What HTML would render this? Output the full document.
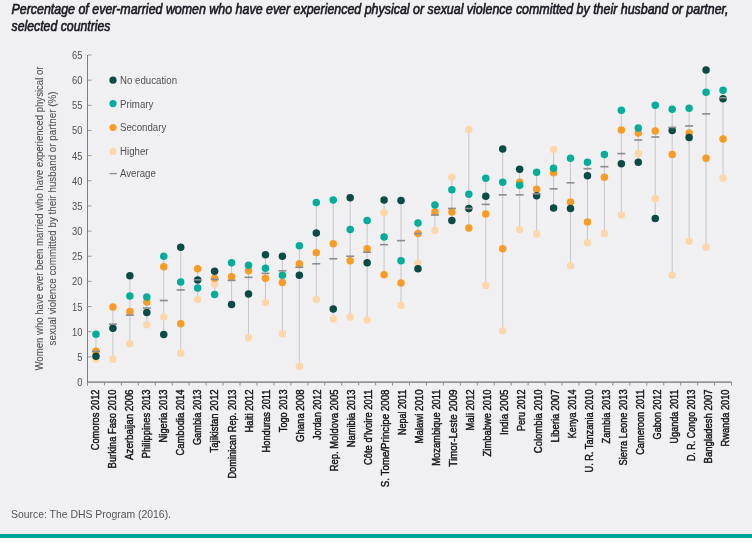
<!DOCTYPE html>
<html><head><meta charset="utf-8"><style>
html,body{margin:0;padding:0;background:#f0f0f2;width:752px;height:553px;overflow:hidden}
svg{display:block;will-change:transform}
</style></head><body>
<svg width="752" height="553" viewBox="0 0 752 553"><rect x="0" y="0" width="752" height="553" fill="#f0f0f2"/>
<rect x="0" y="534" width="752" height="4" fill="#00a494"/>
<rect x="0" y="538" width="752" height="15" fill="#ffffff"/>
<g transform="translate(0 13.8) scale(1 1.07)"><text font-family="Liberation Sans, sans-serif" font-style="italic" font-size="13" fill="#1c1c24" stroke="#1c1c24" stroke-width="0.6"><tspan x="11.5" y="0" textLength="717" lengthAdjust="spacingAndGlyphs">Percentage of ever-married women who have ever experienced physical or sexual violence committed by their husband or partner,</tspan><tspan x="11.5" y="16.54" textLength="99" lengthAdjust="spacingAndGlyphs">selected countries</tspan></text></g>
<line x1="87.5" y1="55" x2="87.5" y2="385.5" stroke="#7d7d80" stroke-width="1"/>
<line x1="87" y1="382" x2="731.5" y2="382" stroke="#737376" stroke-width="1.25"/>
<text x="82.5" y="386.00" font-family="Liberation Sans, sans-serif" font-size="11" fill="#505055" text-anchor="end" transform="translate(82.5 0) scale(0.85 1) translate(-82.5 0)">0</text>
<line x1="88" y1="356.85" x2="91.5" y2="356.85" stroke="#98989b" stroke-width="1"/>
<text x="82.5" y="360.85" font-family="Liberation Sans, sans-serif" font-size="11" fill="#505055" text-anchor="end" transform="translate(82.5 0) scale(0.85 1) translate(-82.5 0)">5</text>
<line x1="88" y1="331.69" x2="91.5" y2="331.69" stroke="#98989b" stroke-width="1"/>
<text x="82.5" y="335.69" font-family="Liberation Sans, sans-serif" font-size="11" fill="#505055" text-anchor="end" transform="translate(82.5 0) scale(0.85 1) translate(-82.5 0)">10</text>
<line x1="88" y1="306.54" x2="91.5" y2="306.54" stroke="#98989b" stroke-width="1"/>
<text x="82.5" y="310.54" font-family="Liberation Sans, sans-serif" font-size="11" fill="#505055" text-anchor="end" transform="translate(82.5 0) scale(0.85 1) translate(-82.5 0)">15</text>
<line x1="88" y1="281.38" x2="91.5" y2="281.38" stroke="#98989b" stroke-width="1"/>
<text x="82.5" y="285.38" font-family="Liberation Sans, sans-serif" font-size="11" fill="#505055" text-anchor="end" transform="translate(82.5 0) scale(0.85 1) translate(-82.5 0)">20</text>
<line x1="88" y1="256.23" x2="91.5" y2="256.23" stroke="#98989b" stroke-width="1"/>
<text x="82.5" y="260.23" font-family="Liberation Sans, sans-serif" font-size="11" fill="#505055" text-anchor="end" transform="translate(82.5 0) scale(0.85 1) translate(-82.5 0)">25</text>
<line x1="88" y1="231.08" x2="91.5" y2="231.08" stroke="#98989b" stroke-width="1"/>
<text x="82.5" y="235.08" font-family="Liberation Sans, sans-serif" font-size="11" fill="#505055" text-anchor="end" transform="translate(82.5 0) scale(0.85 1) translate(-82.5 0)">30</text>
<line x1="88" y1="205.92" x2="91.5" y2="205.92" stroke="#98989b" stroke-width="1"/>
<text x="82.5" y="209.92" font-family="Liberation Sans, sans-serif" font-size="11" fill="#505055" text-anchor="end" transform="translate(82.5 0) scale(0.85 1) translate(-82.5 0)">35</text>
<line x1="88" y1="180.77" x2="91.5" y2="180.77" stroke="#98989b" stroke-width="1"/>
<text x="82.5" y="184.77" font-family="Liberation Sans, sans-serif" font-size="11" fill="#505055" text-anchor="end" transform="translate(82.5 0) scale(0.85 1) translate(-82.5 0)">40</text>
<line x1="88" y1="155.62" x2="91.5" y2="155.62" stroke="#98989b" stroke-width="1"/>
<text x="82.5" y="159.62" font-family="Liberation Sans, sans-serif" font-size="11" fill="#505055" text-anchor="end" transform="translate(82.5 0) scale(0.85 1) translate(-82.5 0)">45</text>
<line x1="88" y1="130.46" x2="91.5" y2="130.46" stroke="#98989b" stroke-width="1"/>
<text x="82.5" y="134.46" font-family="Liberation Sans, sans-serif" font-size="11" fill="#505055" text-anchor="end" transform="translate(82.5 0) scale(0.85 1) translate(-82.5 0)">50</text>
<line x1="88" y1="105.31" x2="91.5" y2="105.31" stroke="#98989b" stroke-width="1"/>
<text x="82.5" y="109.31" font-family="Liberation Sans, sans-serif" font-size="11" fill="#505055" text-anchor="end" transform="translate(82.5 0) scale(0.85 1) translate(-82.5 0)">55</text>
<line x1="88" y1="80.15" x2="91.5" y2="80.15" stroke="#98989b" stroke-width="1"/>
<text x="82.5" y="84.15" font-family="Liberation Sans, sans-serif" font-size="11" fill="#505055" text-anchor="end" transform="translate(82.5 0) scale(0.85 1) translate(-82.5 0)">60</text>
<line x1="88" y1="55.00" x2="91.5" y2="55.00" stroke="#98989b" stroke-width="1"/>
<text x="82.5" y="59.00" font-family="Liberation Sans, sans-serif" font-size="11" fill="#505055" text-anchor="end" transform="translate(82.5 0) scale(0.85 1) translate(-82.5 0)">65</text>
<line x1="87.50" y1="382" x2="87.50" y2="385.5" stroke="#8c8c8f" stroke-width="1"/>
<line x1="104.45" y1="382" x2="104.45" y2="385.5" stroke="#8c8c8f" stroke-width="1"/>
<line x1="121.39" y1="382" x2="121.39" y2="385.5" stroke="#8c8c8f" stroke-width="1"/>
<line x1="138.34" y1="382" x2="138.34" y2="385.5" stroke="#8c8c8f" stroke-width="1"/>
<line x1="155.29" y1="382" x2="155.29" y2="385.5" stroke="#8c8c8f" stroke-width="1"/>
<line x1="172.24" y1="382" x2="172.24" y2="385.5" stroke="#8c8c8f" stroke-width="1"/>
<line x1="189.18" y1="382" x2="189.18" y2="385.5" stroke="#8c8c8f" stroke-width="1"/>
<line x1="206.13" y1="382" x2="206.13" y2="385.5" stroke="#8c8c8f" stroke-width="1"/>
<line x1="223.08" y1="382" x2="223.08" y2="385.5" stroke="#8c8c8f" stroke-width="1"/>
<line x1="240.03" y1="382" x2="240.03" y2="385.5" stroke="#8c8c8f" stroke-width="1"/>
<line x1="256.97" y1="382" x2="256.97" y2="385.5" stroke="#8c8c8f" stroke-width="1"/>
<line x1="273.92" y1="382" x2="273.92" y2="385.5" stroke="#8c8c8f" stroke-width="1"/>
<line x1="290.87" y1="382" x2="290.87" y2="385.5" stroke="#8c8c8f" stroke-width="1"/>
<line x1="307.82" y1="382" x2="307.82" y2="385.5" stroke="#8c8c8f" stroke-width="1"/>
<line x1="324.76" y1="382" x2="324.76" y2="385.5" stroke="#8c8c8f" stroke-width="1"/>
<line x1="341.71" y1="382" x2="341.71" y2="385.5" stroke="#8c8c8f" stroke-width="1"/>
<line x1="358.66" y1="382" x2="358.66" y2="385.5" stroke="#8c8c8f" stroke-width="1"/>
<line x1="375.61" y1="382" x2="375.61" y2="385.5" stroke="#8c8c8f" stroke-width="1"/>
<line x1="392.55" y1="382" x2="392.55" y2="385.5" stroke="#8c8c8f" stroke-width="1"/>
<line x1="409.50" y1="382" x2="409.50" y2="385.5" stroke="#8c8c8f" stroke-width="1"/>
<line x1="426.45" y1="382" x2="426.45" y2="385.5" stroke="#8c8c8f" stroke-width="1"/>
<line x1="443.39" y1="382" x2="443.39" y2="385.5" stroke="#8c8c8f" stroke-width="1"/>
<line x1="460.34" y1="382" x2="460.34" y2="385.5" stroke="#8c8c8f" stroke-width="1"/>
<line x1="477.29" y1="382" x2="477.29" y2="385.5" stroke="#8c8c8f" stroke-width="1"/>
<line x1="494.24" y1="382" x2="494.24" y2="385.5" stroke="#8c8c8f" stroke-width="1"/>
<line x1="511.18" y1="382" x2="511.18" y2="385.5" stroke="#8c8c8f" stroke-width="1"/>
<line x1="528.13" y1="382" x2="528.13" y2="385.5" stroke="#8c8c8f" stroke-width="1"/>
<line x1="545.08" y1="382" x2="545.08" y2="385.5" stroke="#8c8c8f" stroke-width="1"/>
<line x1="562.03" y1="382" x2="562.03" y2="385.5" stroke="#8c8c8f" stroke-width="1"/>
<line x1="578.97" y1="382" x2="578.97" y2="385.5" stroke="#8c8c8f" stroke-width="1"/>
<line x1="595.92" y1="382" x2="595.92" y2="385.5" stroke="#8c8c8f" stroke-width="1"/>
<line x1="612.87" y1="382" x2="612.87" y2="385.5" stroke="#8c8c8f" stroke-width="1"/>
<line x1="629.82" y1="382" x2="629.82" y2="385.5" stroke="#8c8c8f" stroke-width="1"/>
<line x1="646.76" y1="382" x2="646.76" y2="385.5" stroke="#8c8c8f" stroke-width="1"/>
<line x1="663.71" y1="382" x2="663.71" y2="385.5" stroke="#8c8c8f" stroke-width="1"/>
<line x1="680.66" y1="382" x2="680.66" y2="385.5" stroke="#8c8c8f" stroke-width="1"/>
<line x1="697.61" y1="382" x2="697.61" y2="385.5" stroke="#8c8c8f" stroke-width="1"/>
<line x1="714.55" y1="382" x2="714.55" y2="385.5" stroke="#8c8c8f" stroke-width="1"/>
<line x1="731.50" y1="382" x2="731.50" y2="385.5" stroke="#8c8c8f" stroke-width="1"/>
<g transform="translate(43.4 218.5) rotate(-90)"><text x="0" y="0" font-family="Liberation Sans, sans-serif" font-size="11" fill="#505055" stroke="#505055" stroke-width="0.08" text-anchor="middle" textLength="304" lengthAdjust="spacingAndGlyphs">Women who have ever been married who have experienced physical or</text></g>
<g transform="translate(56.0 218.5) rotate(-90)"><text x="0" y="0" font-family="Liberation Sans, sans-serif" font-size="11" fill="#505055" stroke="#505055" stroke-width="0.08" text-anchor="middle" textLength="254" lengthAdjust="spacingAndGlyphs">sexual violence committed by their husband or partner (%)</text></g>
<circle cx="113" cy="80.2" r="3.6" fill="#0a4b44"/>
<text x="120" y="84.2" font-family="Liberation Sans, sans-serif" font-size="11" fill="#505055" transform="translate(120 0) scale(0.88 1) translate(-120 0)">No education</text>
<circle cx="113" cy="103.6" r="3.6" fill="#04ad98"/>
<text x="120" y="107.6" font-family="Liberation Sans, sans-serif" font-size="11" fill="#505055" transform="translate(120 0) scale(0.88 1) translate(-120 0)">Primary</text>
<circle cx="113" cy="127.5" r="3.6" fill="#f69d28"/>
<text x="120" y="131.5" font-family="Liberation Sans, sans-serif" font-size="11" fill="#505055" transform="translate(120 0) scale(0.88 1) translate(-120 0)">Secondary</text>
<circle cx="113" cy="151.3" r="3.6" fill="#fbd8ac"/>
<text x="120" y="155.3" font-family="Liberation Sans, sans-serif" font-size="11" fill="#505055" transform="translate(120 0) scale(0.88 1) translate(-120 0)">Higher</text>
<rect x="109.6" y="172.95" width="7.2" height="1.3" fill="#8c8c8e"/>
<text x="120" y="177" font-family="Liberation Sans, sans-serif" font-size="11" fill="#505055" transform="translate(120 0) scale(0.88 1) translate(-120 0)">Average</text>
<line x1="95.97" y1="334.21" x2="95.97" y2="359.36" stroke="#c8c8cc" stroke-width="1.05"/>
<circle cx="95.97" cy="359.36" r="3.75" fill="#fbd8ac"/>
<circle cx="95.97" cy="351.31" r="3.75" fill="#f69d28"/>
<circle cx="95.97" cy="334.21" r="3.75" fill="#04ad98"/>
<circle cx="95.97" cy="356.34" r="3.75" fill="#0a4b44"/>
<rect x="91.97" y="350.51" width="8" height="1.6" fill="#8c8c8e"/>
<g transform="translate(99.27 389.5) rotate(-90)"><text x="0" y="0" font-family="Liberation Sans, sans-serif" font-size="10.6" fill="#141418" stroke="#141418" stroke-width="0.42" text-anchor="end" textLength="60.8" lengthAdjust="spacingAndGlyphs">Comoros 2012</text></g>
<line x1="112.92" y1="307.04" x2="112.92" y2="359.36" stroke="#c8c8cc" stroke-width="1.05"/>
<circle cx="112.92" cy="359.36" r="3.75" fill="#fbd8ac"/>
<circle cx="112.92" cy="307.04" r="3.75" fill="#f69d28"/>
<circle cx="112.92" cy="328.17" r="3.75" fill="#0a4b44"/>
<rect x="108.92" y="323.35" width="8" height="1.6" fill="#8c8c8e"/>
<g transform="translate(116.30 389.5) rotate(-90)"><text x="0" y="0" font-family="Liberation Sans, sans-serif" font-size="10.6" fill="#141418" stroke="#141418" stroke-width="0.42" text-anchor="end" textLength="78.9" lengthAdjust="spacingAndGlyphs">Burkina Faso 2010</text></g>
<line x1="129.87" y1="275.85" x2="129.87" y2="343.77" stroke="#c8c8cc" stroke-width="1.05"/>
<circle cx="129.87" cy="343.77" r="3.75" fill="#fbd8ac"/>
<circle cx="129.87" cy="311.57" r="3.75" fill="#f69d28"/>
<circle cx="129.87" cy="295.97" r="3.75" fill="#04ad98"/>
<circle cx="129.87" cy="275.85" r="3.75" fill="#0a4b44"/>
<rect x="125.87" y="314.29" width="8" height="1.6" fill="#8c8c8e"/>
<g transform="translate(133.33 389.5) rotate(-90)"><text x="0" y="0" font-family="Liberation Sans, sans-serif" font-size="10.6" fill="#141418" stroke="#141418" stroke-width="0.42" text-anchor="end" textLength="70.5" lengthAdjust="spacingAndGlyphs">Azerbaijan 2006</text></g>
<line x1="146.82" y1="296.98" x2="146.82" y2="324.65" stroke="#c8c8cc" stroke-width="1.05"/>
<circle cx="146.82" cy="324.65" r="3.75" fill="#fbd8ac"/>
<circle cx="146.82" cy="302.01" r="3.75" fill="#f69d28"/>
<circle cx="146.82" cy="296.98" r="3.75" fill="#04ad98"/>
<circle cx="146.82" cy="312.58" r="3.75" fill="#0a4b44"/>
<rect x="142.82" y="307.25" width="8" height="1.6" fill="#8c8c8e"/>
<g transform="translate(150.36 389.5) rotate(-90)"><text x="0" y="0" font-family="Liberation Sans, sans-serif" font-size="10.6" fill="#141418" stroke="#141418" stroke-width="0.42" text-anchor="end" textLength="68.7" lengthAdjust="spacingAndGlyphs">Philippines 2013</text></g>
<line x1="163.76" y1="256.23" x2="163.76" y2="334.46" stroke="#c8c8cc" stroke-width="1.05"/>
<circle cx="163.76" cy="317.10" r="3.75" fill="#fbd8ac"/>
<circle cx="163.76" cy="266.80" r="3.75" fill="#f69d28"/>
<circle cx="163.76" cy="256.23" r="3.75" fill="#04ad98"/>
<circle cx="163.76" cy="334.46" r="3.75" fill="#0a4b44"/>
<rect x="159.76" y="299.70" width="8" height="1.6" fill="#8c8c8e"/>
<g transform="translate(167.39 389.5) rotate(-90)"><text x="0" y="0" font-family="Liberation Sans, sans-serif" font-size="10.6" fill="#141418" stroke="#141418" stroke-width="0.42" text-anchor="end" textLength="52.9" lengthAdjust="spacingAndGlyphs">Nigeria 2013</text></g>
<line x1="180.71" y1="247.18" x2="180.71" y2="353.32" stroke="#c8c8cc" stroke-width="1.05"/>
<circle cx="180.71" cy="353.32" r="3.75" fill="#fbd8ac"/>
<circle cx="180.71" cy="323.64" r="3.75" fill="#f69d28"/>
<circle cx="180.71" cy="281.89" r="3.75" fill="#04ad98"/>
<circle cx="180.71" cy="247.18" r="3.75" fill="#0a4b44"/>
<rect x="176.71" y="289.14" width="8" height="1.6" fill="#8c8c8e"/>
<g transform="translate(184.42 389.5) rotate(-90)"><text x="0" y="0" font-family="Liberation Sans, sans-serif" font-size="10.6" fill="#141418" stroke="#141418" stroke-width="0.42" text-anchor="end" textLength="66.0" lengthAdjust="spacingAndGlyphs">Cambodia 2014</text></g>
<line x1="197.66" y1="268.81" x2="197.66" y2="299.50" stroke="#c8c8cc" stroke-width="1.05"/>
<circle cx="197.66" cy="299.50" r="3.75" fill="#fbd8ac"/>
<circle cx="197.66" cy="268.81" r="3.75" fill="#f69d28"/>
<circle cx="197.66" cy="287.92" r="3.75" fill="#04ad98"/>
<circle cx="197.66" cy="279.88" r="3.75" fill="#0a4b44"/>
<rect x="193.66" y="279.08" width="8" height="1.6" fill="#8c8c8e"/>
<g transform="translate(201.44 389.5) rotate(-90)"><text x="0" y="0" font-family="Liberation Sans, sans-serif" font-size="10.6" fill="#141418" stroke="#141418" stroke-width="0.42" text-anchor="end" textLength="55.6" lengthAdjust="spacingAndGlyphs">Gambia 2013</text></g>
<line x1="214.61" y1="271.32" x2="214.61" y2="294.46" stroke="#c8c8cc" stroke-width="1.05"/>
<circle cx="214.61" cy="283.90" r="3.75" fill="#fbd8ac"/>
<circle cx="214.61" cy="278.37" r="3.75" fill="#f69d28"/>
<circle cx="214.61" cy="294.46" r="3.75" fill="#04ad98"/>
<circle cx="214.61" cy="271.32" r="3.75" fill="#0a4b44"/>
<rect x="210.61" y="278.57" width="8" height="1.6" fill="#8c8c8e"/>
<g transform="translate(218.47 389.5) rotate(-90)"><text x="0" y="0" font-family="Liberation Sans, sans-serif" font-size="10.6" fill="#141418" stroke="#141418" stroke-width="0.42" text-anchor="end" textLength="63.0" lengthAdjust="spacingAndGlyphs">Tajikistan 2012</text></g>
<line x1="231.55" y1="262.77" x2="231.55" y2="304.53" stroke="#c8c8cc" stroke-width="1.05"/>
<circle cx="231.55" cy="276.86" r="3.75" fill="#f69d28"/>
<circle cx="231.55" cy="262.77" r="3.75" fill="#04ad98"/>
<circle cx="231.55" cy="304.53" r="3.75" fill="#0a4b44"/>
<rect x="227.55" y="279.58" width="8" height="1.6" fill="#8c8c8e"/>
<g transform="translate(235.50 389.5) rotate(-90)"><text x="0" y="0" font-family="Liberation Sans, sans-serif" font-size="10.6" fill="#141418" stroke="#141418" stroke-width="0.42" text-anchor="end" textLength="89.1" lengthAdjust="spacingAndGlyphs">Dominican Rep. 2013</text></g>
<line x1="248.50" y1="265.29" x2="248.50" y2="337.73" stroke="#c8c8cc" stroke-width="1.05"/>
<circle cx="248.50" cy="337.73" r="3.75" fill="#fbd8ac"/>
<circle cx="248.50" cy="270.82" r="3.75" fill="#f69d28"/>
<circle cx="248.50" cy="265.29" r="3.75" fill="#04ad98"/>
<circle cx="248.50" cy="293.96" r="3.75" fill="#0a4b44"/>
<rect x="244.50" y="276.56" width="8" height="1.6" fill="#8c8c8e"/>
<g transform="translate(252.53 389.5) rotate(-90)"><text x="0" y="0" font-family="Liberation Sans, sans-serif" font-size="10.6" fill="#141418" stroke="#141418" stroke-width="0.42" text-anchor="end" textLength="43.1" lengthAdjust="spacingAndGlyphs">Haiti 2012</text></g>
<line x1="265.45" y1="254.72" x2="265.45" y2="302.51" stroke="#c8c8cc" stroke-width="1.05"/>
<circle cx="265.45" cy="302.51" r="3.75" fill="#fbd8ac"/>
<circle cx="265.45" cy="278.37" r="3.75" fill="#f69d28"/>
<circle cx="265.45" cy="268.30" r="3.75" fill="#04ad98"/>
<circle cx="265.45" cy="254.72" r="3.75" fill="#0a4b44"/>
<rect x="261.45" y="272.54" width="8" height="1.6" fill="#8c8c8e"/>
<g transform="translate(269.56 389.5) rotate(-90)"><text x="0" y="0" font-family="Liberation Sans, sans-serif" font-size="10.6" fill="#141418" stroke="#141418" stroke-width="0.42" text-anchor="end" textLength="63.0" lengthAdjust="spacingAndGlyphs">Honduras 2011</text></g>
<line x1="282.39" y1="256.23" x2="282.39" y2="333.70" stroke="#c8c8cc" stroke-width="1.05"/>
<circle cx="282.39" cy="333.70" r="3.75" fill="#fbd8ac"/>
<circle cx="282.39" cy="282.39" r="3.75" fill="#f69d28"/>
<circle cx="282.39" cy="275.35" r="3.75" fill="#04ad98"/>
<circle cx="282.39" cy="256.23" r="3.75" fill="#0a4b44"/>
<rect x="278.39" y="270.02" width="8" height="1.6" fill="#8c8c8e"/>
<g transform="translate(286.59 389.5) rotate(-90)"><text x="0" y="0" font-family="Liberation Sans, sans-serif" font-size="10.6" fill="#141418" stroke="#141418" stroke-width="0.42" text-anchor="end" textLength="42.7" lengthAdjust="spacingAndGlyphs">Togo 2013</text></g>
<line x1="299.34" y1="245.67" x2="299.34" y2="366.40" stroke="#c8c8cc" stroke-width="1.05"/>
<circle cx="299.34" cy="366.40" r="3.75" fill="#fbd8ac"/>
<circle cx="299.34" cy="263.78" r="3.75" fill="#f69d28"/>
<circle cx="299.34" cy="245.67" r="3.75" fill="#04ad98"/>
<circle cx="299.34" cy="275.35" r="3.75" fill="#0a4b44"/>
<rect x="295.34" y="266.50" width="8" height="1.6" fill="#8c8c8e"/>
<g transform="translate(303.61 389.5) rotate(-90)"><text x="0" y="0" font-family="Liberation Sans, sans-serif" font-size="10.6" fill="#141418" stroke="#141418" stroke-width="0.42" text-anchor="end" textLength="52.4" lengthAdjust="spacingAndGlyphs">Ghana 2008</text></g>
<line x1="316.29" y1="202.40" x2="316.29" y2="299.50" stroke="#c8c8cc" stroke-width="1.05"/>
<circle cx="316.29" cy="299.50" r="3.75" fill="#fbd8ac"/>
<circle cx="316.29" cy="252.71" r="3.75" fill="#f69d28"/>
<circle cx="316.29" cy="202.40" r="3.75" fill="#04ad98"/>
<circle cx="316.29" cy="233.09" r="3.75" fill="#0a4b44"/>
<rect x="312.29" y="262.98" width="8" height="1.6" fill="#8c8c8e"/>
<g transform="translate(320.64 389.5) rotate(-90)"><text x="0" y="0" font-family="Liberation Sans, sans-serif" font-size="10.6" fill="#141418" stroke="#141418" stroke-width="0.42" text-anchor="end" textLength="50.6" lengthAdjust="spacingAndGlyphs">Jordan 2012</text></g>
<line x1="333.24" y1="199.89" x2="333.24" y2="319.12" stroke="#c8c8cc" stroke-width="1.05"/>
<circle cx="333.24" cy="319.12" r="3.75" fill="#fbd8ac"/>
<circle cx="333.24" cy="243.65" r="3.75" fill="#f69d28"/>
<circle cx="333.24" cy="199.89" r="3.75" fill="#04ad98"/>
<circle cx="333.24" cy="309.05" r="3.75" fill="#0a4b44"/>
<rect x="329.24" y="257.95" width="8" height="1.6" fill="#8c8c8e"/>
<g transform="translate(337.67 389.5) rotate(-90)"><text x="0" y="0" font-family="Liberation Sans, sans-serif" font-size="10.6" fill="#141418" stroke="#141418" stroke-width="0.42" text-anchor="end" textLength="81.8" lengthAdjust="spacingAndGlyphs">Rep. Moldova 2005</text></g>
<line x1="350.18" y1="197.87" x2="350.18" y2="317.10" stroke="#c8c8cc" stroke-width="1.05"/>
<circle cx="350.18" cy="317.10" r="3.75" fill="#fbd8ac"/>
<circle cx="350.18" cy="260.76" r="3.75" fill="#f69d28"/>
<circle cx="350.18" cy="229.57" r="3.75" fill="#04ad98"/>
<circle cx="350.18" cy="197.87" r="3.75" fill="#0a4b44"/>
<rect x="346.18" y="255.43" width="8" height="1.6" fill="#8c8c8e"/>
<g transform="translate(354.70 389.5) rotate(-90)"><text x="0" y="0" font-family="Liberation Sans, sans-serif" font-size="10.6" fill="#141418" stroke="#141418" stroke-width="0.42" text-anchor="end" textLength="57.8" lengthAdjust="spacingAndGlyphs">Namibia 2013</text></g>
<line x1="367.13" y1="220.51" x2="367.13" y2="320.12" stroke="#c8c8cc" stroke-width="1.05"/>
<circle cx="367.13" cy="320.12" r="3.75" fill="#fbd8ac"/>
<circle cx="367.13" cy="248.68" r="3.75" fill="#f69d28"/>
<circle cx="367.13" cy="220.51" r="3.75" fill="#04ad98"/>
<circle cx="367.13" cy="262.77" r="3.75" fill="#0a4b44"/>
<rect x="363.13" y="251.41" width="8" height="1.6" fill="#8c8c8e"/>
<g transform="translate(371.73 389.5) rotate(-90)"><text x="0" y="0" font-family="Liberation Sans, sans-serif" font-size="10.6" fill="#141418" stroke="#141418" stroke-width="0.42" text-anchor="end" textLength="75.5" lengthAdjust="spacingAndGlyphs">Côte d&#8217;Ivoire 2011</text></g>
<line x1="384.08" y1="199.89" x2="384.08" y2="274.84" stroke="#c8c8cc" stroke-width="1.05"/>
<circle cx="384.08" cy="212.46" r="3.75" fill="#fbd8ac"/>
<circle cx="384.08" cy="274.84" r="3.75" fill="#f69d28"/>
<circle cx="384.08" cy="237.11" r="3.75" fill="#04ad98"/>
<circle cx="384.08" cy="199.89" r="3.75" fill="#0a4b44"/>
<rect x="380.08" y="243.86" width="8" height="1.6" fill="#8c8c8e"/>
<g transform="translate(388.76 389.5) rotate(-90)"><text x="0" y="0" font-family="Liberation Sans, sans-serif" font-size="10.6" fill="#141418" stroke="#141418" stroke-width="0.42" text-anchor="end" textLength="97.7" lengthAdjust="spacingAndGlyphs">S. Tome/Principe 2008</text></g>
<line x1="401.03" y1="200.39" x2="401.03" y2="305.53" stroke="#c8c8cc" stroke-width="1.05"/>
<circle cx="401.03" cy="305.53" r="3.75" fill="#fbd8ac"/>
<circle cx="401.03" cy="282.89" r="3.75" fill="#f69d28"/>
<circle cx="401.03" cy="260.76" r="3.75" fill="#04ad98"/>
<circle cx="401.03" cy="200.39" r="3.75" fill="#0a4b44"/>
<rect x="397.03" y="239.84" width="8" height="1.6" fill="#8c8c8e"/>
<g transform="translate(405.78 389.5) rotate(-90)"><text x="0" y="0" font-family="Liberation Sans, sans-serif" font-size="10.6" fill="#141418" stroke="#141418" stroke-width="0.42" text-anchor="end" textLength="45.6" lengthAdjust="spacingAndGlyphs">Nepal 2011</text></g>
<line x1="417.97" y1="223.03" x2="417.97" y2="268.81" stroke="#c8c8cc" stroke-width="1.05"/>
<circle cx="417.97" cy="263.27" r="3.75" fill="#fbd8ac"/>
<circle cx="417.97" cy="233.59" r="3.75" fill="#f69d28"/>
<circle cx="417.97" cy="223.03" r="3.75" fill="#04ad98"/>
<circle cx="417.97" cy="268.81" r="3.75" fill="#0a4b44"/>
<rect x="413.97" y="232.79" width="8" height="1.6" fill="#8c8c8e"/>
<g transform="translate(422.81 389.5) rotate(-90)"><text x="0" y="0" font-family="Liberation Sans, sans-serif" font-size="10.6" fill="#141418" stroke="#141418" stroke-width="0.42" text-anchor="end" textLength="54.0" lengthAdjust="spacingAndGlyphs">Malawi 2010</text></g>
<line x1="434.92" y1="204.92" x2="434.92" y2="230.57" stroke="#c8c8cc" stroke-width="1.05"/>
<circle cx="434.92" cy="230.57" r="3.75" fill="#fbd8ac"/>
<circle cx="434.92" cy="211.96" r="3.75" fill="#f69d28"/>
<circle cx="434.92" cy="204.92" r="3.75" fill="#04ad98"/>
<rect x="430.92" y="214.18" width="8" height="1.6" fill="#8c8c8e"/>
<g transform="translate(439.84 389.5) rotate(-90)"><text x="0" y="0" font-family="Liberation Sans, sans-serif" font-size="10.6" fill="#141418" stroke="#141418" stroke-width="0.42" text-anchor="end" textLength="76.3" lengthAdjust="spacingAndGlyphs">Mozambique 2011</text></g>
<line x1="451.87" y1="177.25" x2="451.87" y2="220.51" stroke="#c8c8cc" stroke-width="1.05"/>
<circle cx="451.87" cy="177.25" r="3.75" fill="#fbd8ac"/>
<circle cx="451.87" cy="211.96" r="3.75" fill="#f69d28"/>
<circle cx="451.87" cy="189.82" r="3.75" fill="#04ad98"/>
<circle cx="451.87" cy="220.51" r="3.75" fill="#0a4b44"/>
<rect x="447.87" y="207.64" width="8" height="1.6" fill="#8c8c8e"/>
<g transform="translate(456.87 389.5) rotate(-90)"><text x="0" y="0" font-family="Liberation Sans, sans-serif" font-size="10.6" fill="#141418" stroke="#141418" stroke-width="0.42" text-anchor="end" textLength="77.3" lengthAdjust="spacingAndGlyphs">Timor-Leste 2009</text></g>
<line x1="468.82" y1="129.46" x2="468.82" y2="228.06" stroke="#c8c8cc" stroke-width="1.05"/>
<circle cx="468.82" cy="129.46" r="3.75" fill="#fbd8ac"/>
<circle cx="468.82" cy="228.06" r="3.75" fill="#f69d28"/>
<circle cx="468.82" cy="194.35" r="3.75" fill="#04ad98"/>
<circle cx="468.82" cy="208.44" r="3.75" fill="#0a4b44"/>
<rect x="464.82" y="207.64" width="8" height="1.6" fill="#8c8c8e"/>
<g transform="translate(473.90 389.5) rotate(-90)"><text x="0" y="0" font-family="Liberation Sans, sans-serif" font-size="10.6" fill="#141418" stroke="#141418" stroke-width="0.42" text-anchor="end" textLength="41.1" lengthAdjust="spacingAndGlyphs">Mali 2012</text></g>
<line x1="485.76" y1="178.25" x2="485.76" y2="285.41" stroke="#c8c8cc" stroke-width="1.05"/>
<circle cx="485.76" cy="285.41" r="3.75" fill="#fbd8ac"/>
<circle cx="485.76" cy="213.97" r="3.75" fill="#f69d28"/>
<circle cx="485.76" cy="178.25" r="3.75" fill="#04ad98"/>
<circle cx="485.76" cy="196.36" r="3.75" fill="#0a4b44"/>
<rect x="481.76" y="203.61" width="8" height="1.6" fill="#8c8c8e"/>
<g transform="translate(490.93 389.5) rotate(-90)"><text x="0" y="0" font-family="Liberation Sans, sans-serif" font-size="10.6" fill="#141418" stroke="#141418" stroke-width="0.42" text-anchor="end" textLength="66.9" lengthAdjust="spacingAndGlyphs">Zimbabwe 2010</text></g>
<line x1="502.71" y1="149.08" x2="502.71" y2="330.69" stroke="#c8c8cc" stroke-width="1.05"/>
<circle cx="502.71" cy="330.69" r="3.75" fill="#fbd8ac"/>
<circle cx="502.71" cy="248.68" r="3.75" fill="#f69d28"/>
<circle cx="502.71" cy="182.28" r="3.75" fill="#04ad98"/>
<circle cx="502.71" cy="149.08" r="3.75" fill="#0a4b44"/>
<rect x="498.71" y="194.06" width="8" height="1.6" fill="#8c8c8e"/>
<g transform="translate(507.95 389.5) rotate(-90)"><text x="0" y="0" font-family="Liberation Sans, sans-serif" font-size="10.6" fill="#141418" stroke="#141418" stroke-width="0.42" text-anchor="end" textLength="45.6" lengthAdjust="spacingAndGlyphs">India 2005</text></g>
<line x1="519.66" y1="169.20" x2="519.66" y2="229.57" stroke="#c8c8cc" stroke-width="1.05"/>
<circle cx="519.66" cy="229.57" r="3.75" fill="#fbd8ac"/>
<circle cx="519.66" cy="182.28" r="3.75" fill="#f69d28"/>
<circle cx="519.66" cy="185.30" r="3.75" fill="#04ad98"/>
<circle cx="519.66" cy="169.20" r="3.75" fill="#0a4b44"/>
<rect x="515.66" y="194.06" width="8" height="1.6" fill="#8c8c8e"/>
<g transform="translate(524.98 389.5) rotate(-90)"><text x="0" y="0" font-family="Liberation Sans, sans-serif" font-size="10.6" fill="#141418" stroke="#141418" stroke-width="0.42" text-anchor="end" textLength="41.5" lengthAdjust="spacingAndGlyphs">Peru 2012</text></g>
<line x1="536.61" y1="172.22" x2="536.61" y2="234.10" stroke="#c8c8cc" stroke-width="1.05"/>
<circle cx="536.61" cy="234.10" r="3.75" fill="#fbd8ac"/>
<circle cx="536.61" cy="189.32" r="3.75" fill="#f69d28"/>
<circle cx="536.61" cy="172.22" r="3.75" fill="#04ad98"/>
<circle cx="536.61" cy="195.86" r="3.75" fill="#0a4b44"/>
<rect x="532.61" y="193.05" width="8" height="1.6" fill="#8c8c8e"/>
<g transform="translate(542.01 389.5) rotate(-90)"><text x="0" y="0" font-family="Liberation Sans, sans-serif" font-size="10.6" fill="#141418" stroke="#141418" stroke-width="0.42" text-anchor="end" textLength="63.7" lengthAdjust="spacingAndGlyphs">Colombia 2010</text></g>
<line x1="553.55" y1="149.58" x2="553.55" y2="207.94" stroke="#c8c8cc" stroke-width="1.05"/>
<circle cx="553.55" cy="149.58" r="3.75" fill="#fbd8ac"/>
<circle cx="553.55" cy="172.72" r="3.75" fill="#f69d28"/>
<circle cx="553.55" cy="168.19" r="3.75" fill="#04ad98"/>
<circle cx="553.55" cy="207.94" r="3.75" fill="#0a4b44"/>
<rect x="549.55" y="188.02" width="8" height="1.6" fill="#8c8c8e"/>
<g transform="translate(559.04 389.5) rotate(-90)"><text x="0" y="0" font-family="Liberation Sans, sans-serif" font-size="10.6" fill="#141418" stroke="#141418" stroke-width="0.42" text-anchor="end" textLength="52.9" lengthAdjust="spacingAndGlyphs">Liberia 2007</text></g>
<line x1="570.50" y1="158.13" x2="570.50" y2="265.79" stroke="#c8c8cc" stroke-width="1.05"/>
<circle cx="570.50" cy="265.79" r="3.75" fill="#fbd8ac"/>
<circle cx="570.50" cy="201.90" r="3.75" fill="#f69d28"/>
<circle cx="570.50" cy="158.13" r="3.75" fill="#04ad98"/>
<circle cx="570.50" cy="208.44" r="3.75" fill="#0a4b44"/>
<rect x="566.50" y="181.98" width="8" height="1.6" fill="#8c8c8e"/>
<g transform="translate(576.07 389.5) rotate(-90)"><text x="0" y="0" font-family="Liberation Sans, sans-serif" font-size="10.6" fill="#141418" stroke="#141418" stroke-width="0.42" text-anchor="end" textLength="48.8" lengthAdjust="spacingAndGlyphs">Kenya 2014</text></g>
<line x1="587.45" y1="162.16" x2="587.45" y2="242.65" stroke="#c8c8cc" stroke-width="1.05"/>
<circle cx="587.45" cy="242.65" r="3.75" fill="#fbd8ac"/>
<circle cx="587.45" cy="222.02" r="3.75" fill="#f69d28"/>
<circle cx="587.45" cy="162.16" r="3.75" fill="#04ad98"/>
<circle cx="587.45" cy="175.74" r="3.75" fill="#0a4b44"/>
<rect x="583.45" y="167.90" width="8" height="1.6" fill="#8c8c8e"/>
<g transform="translate(593.10 389.5) rotate(-90)"><text x="0" y="0" font-family="Liberation Sans, sans-serif" font-size="10.6" fill="#141418" stroke="#141418" stroke-width="0.42" text-anchor="end" textLength="83.0" lengthAdjust="spacingAndGlyphs">U. R. Tanzania 2010</text></g>
<line x1="604.39" y1="154.61" x2="604.39" y2="233.59" stroke="#c8c8cc" stroke-width="1.05"/>
<circle cx="604.39" cy="233.59" r="3.75" fill="#fbd8ac"/>
<circle cx="604.39" cy="177.25" r="3.75" fill="#f69d28"/>
<circle cx="604.39" cy="154.61" r="3.75" fill="#04ad98"/>
<rect x="600.39" y="165.88" width="8" height="1.6" fill="#8c8c8e"/>
<g transform="translate(610.12 389.5) rotate(-90)"><text x="0" y="0" font-family="Liberation Sans, sans-serif" font-size="10.6" fill="#141418" stroke="#141418" stroke-width="0.42" text-anchor="end" textLength="54.0" lengthAdjust="spacingAndGlyphs">Zambia 2013</text></g>
<line x1="621.34" y1="110.34" x2="621.34" y2="214.98" stroke="#c8c8cc" stroke-width="1.05"/>
<circle cx="621.34" cy="214.98" r="3.75" fill="#fbd8ac"/>
<circle cx="621.34" cy="129.96" r="3.75" fill="#f69d28"/>
<circle cx="621.34" cy="110.34" r="3.75" fill="#04ad98"/>
<circle cx="621.34" cy="163.66" r="3.75" fill="#0a4b44"/>
<rect x="617.34" y="152.80" width="8" height="1.6" fill="#8c8c8e"/>
<g transform="translate(627.15 389.5) rotate(-90)"><text x="0" y="0" font-family="Liberation Sans, sans-serif" font-size="10.6" fill="#141418" stroke="#141418" stroke-width="0.42" text-anchor="end" textLength="75.9" lengthAdjust="spacingAndGlyphs">Sierra Leone 2013</text></g>
<line x1="638.29" y1="127.95" x2="638.29" y2="162.16" stroke="#c8c8cc" stroke-width="1.05"/>
<circle cx="638.29" cy="153.60" r="3.75" fill="#fbd8ac"/>
<circle cx="638.29" cy="132.98" r="3.75" fill="#f69d28"/>
<circle cx="638.29" cy="127.95" r="3.75" fill="#04ad98"/>
<circle cx="638.29" cy="162.16" r="3.75" fill="#0a4b44"/>
<rect x="634.29" y="139.22" width="8" height="1.6" fill="#8c8c8e"/>
<g transform="translate(644.18 389.5) rotate(-90)"><text x="0" y="0" font-family="Liberation Sans, sans-serif" font-size="10.6" fill="#141418" stroke="#141418" stroke-width="0.42" text-anchor="end" textLength="65.3" lengthAdjust="spacingAndGlyphs">Cameroon 2011</text></g>
<line x1="655.24" y1="105.31" x2="655.24" y2="218.50" stroke="#c8c8cc" stroke-width="1.05"/>
<circle cx="655.24" cy="198.38" r="3.75" fill="#fbd8ac"/>
<circle cx="655.24" cy="130.96" r="3.75" fill="#f69d28"/>
<circle cx="655.24" cy="105.31" r="3.75" fill="#04ad98"/>
<circle cx="655.24" cy="218.50" r="3.75" fill="#0a4b44"/>
<rect x="651.24" y="136.20" width="8" height="1.6" fill="#8c8c8e"/>
<g transform="translate(661.21 389.5) rotate(-90)"><text x="0" y="0" font-family="Liberation Sans, sans-serif" font-size="10.6" fill="#141418" stroke="#141418" stroke-width="0.42" text-anchor="end" textLength="49.9" lengthAdjust="spacingAndGlyphs">Gabon 2012</text></g>
<line x1="672.18" y1="109.33" x2="672.18" y2="275.35" stroke="#c8c8cc" stroke-width="1.05"/>
<circle cx="672.18" cy="275.35" r="3.75" fill="#fbd8ac"/>
<circle cx="672.18" cy="154.61" r="3.75" fill="#f69d28"/>
<circle cx="672.18" cy="109.33" r="3.75" fill="#04ad98"/>
<circle cx="672.18" cy="130.46" r="3.75" fill="#0a4b44"/>
<rect x="668.18" y="126.64" width="8" height="1.6" fill="#8c8c8e"/>
<g transform="translate(678.24 389.5) rotate(-90)"><text x="0" y="0" font-family="Liberation Sans, sans-serif" font-size="10.6" fill="#141418" stroke="#141418" stroke-width="0.42" text-anchor="end" textLength="54.0" lengthAdjust="spacingAndGlyphs">Uganda 2011</text></g>
<line x1="689.13" y1="108.33" x2="689.13" y2="241.14" stroke="#c8c8cc" stroke-width="1.05"/>
<circle cx="689.13" cy="241.14" r="3.75" fill="#fbd8ac"/>
<circle cx="689.13" cy="132.98" r="3.75" fill="#f69d28"/>
<circle cx="689.13" cy="108.33" r="3.75" fill="#04ad98"/>
<circle cx="689.13" cy="137.50" r="3.75" fill="#0a4b44"/>
<rect x="685.13" y="125.13" width="8" height="1.6" fill="#8c8c8e"/>
<g transform="translate(695.27 389.5) rotate(-90)"><text x="0" y="0" font-family="Liberation Sans, sans-serif" font-size="10.6" fill="#141418" stroke="#141418" stroke-width="0.42" text-anchor="end" textLength="71.6" lengthAdjust="spacingAndGlyphs">D. R. Congo 2013</text></g>
<line x1="706.08" y1="70.09" x2="706.08" y2="247.18" stroke="#c8c8cc" stroke-width="1.05"/>
<circle cx="706.08" cy="247.18" r="3.75" fill="#fbd8ac"/>
<circle cx="706.08" cy="158.13" r="3.75" fill="#f69d28"/>
<circle cx="706.08" cy="92.23" r="3.75" fill="#04ad98"/>
<circle cx="706.08" cy="70.09" r="3.75" fill="#0a4b44"/>
<rect x="702.08" y="113.06" width="8" height="1.6" fill="#8c8c8e"/>
<g transform="translate(712.29 389.5) rotate(-90)"><text x="0" y="0" font-family="Liberation Sans, sans-serif" font-size="10.6" fill="#141418" stroke="#141418" stroke-width="0.42" text-anchor="end" textLength="73.9" lengthAdjust="spacingAndGlyphs">Bangladesh 2007</text></g>
<line x1="723.03" y1="90.22" x2="723.03" y2="178.25" stroke="#c8c8cc" stroke-width="1.05"/>
<circle cx="723.03" cy="178.25" r="3.75" fill="#fbd8ac"/>
<circle cx="723.03" cy="139.01" r="3.75" fill="#f69d28"/>
<circle cx="723.03" cy="90.22" r="3.75" fill="#04ad98"/>
<circle cx="723.03" cy="98.77" r="3.75" fill="#0a4b44"/>
<rect x="719.03" y="96.96" width="8" height="1.6" fill="#8c8c8e"/>
<g transform="translate(729.32 389.5) rotate(-90)"><text x="0" y="0" font-family="Liberation Sans, sans-serif" font-size="10.6" fill="#141418" stroke="#141418" stroke-width="0.42" text-anchor="end" textLength="56.9" lengthAdjust="spacingAndGlyphs">Rwanda 2010</text></g>
<text x="11" y="517.6" font-family="Liberation Sans, sans-serif" font-size="10.5" fill="#555558" textLength="160" lengthAdjust="spacingAndGlyphs">Source: The DHS Program (2016).</text></svg>
</body></html>
